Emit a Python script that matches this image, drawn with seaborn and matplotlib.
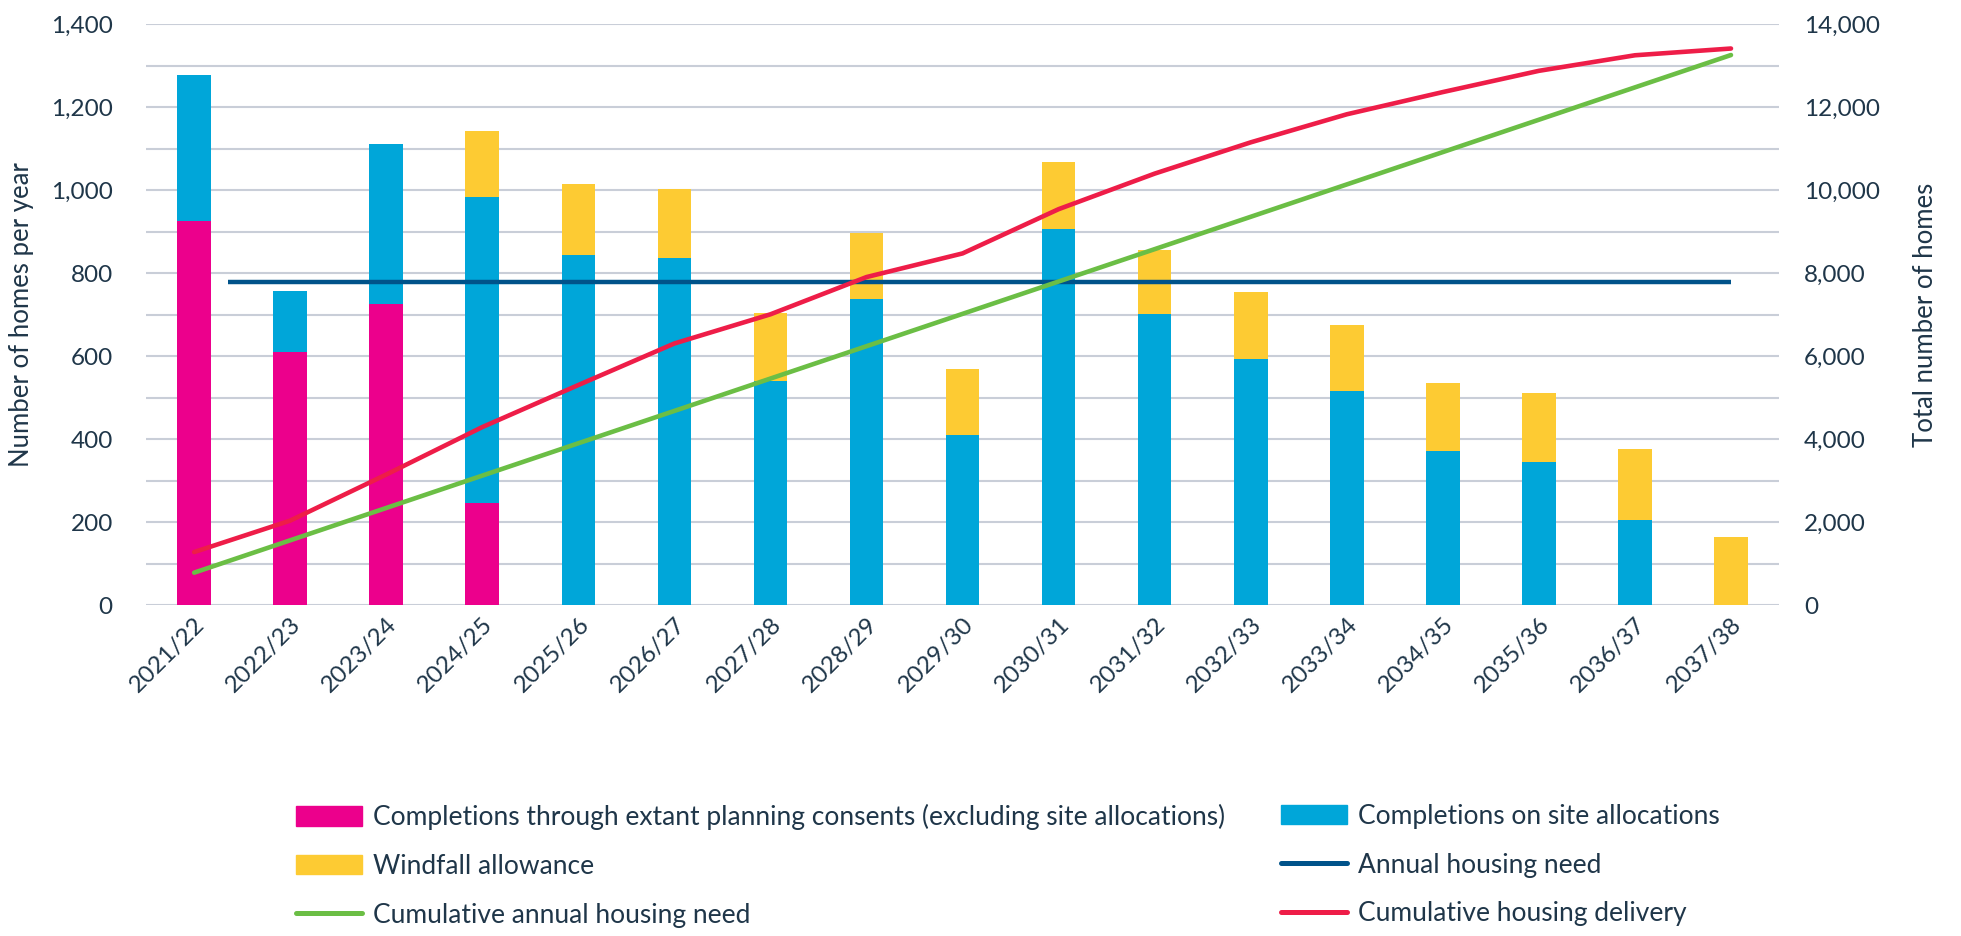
import matplotlib
matplotlib.use('Agg')
import matplotlib.pyplot as plt
import matplotlib.patches as mpatches
import matplotlib.lines as mlines
import numpy as np
import pandas as pd
import seaborn as sns

years = ['2021/22', '2022/23', '2023/24', '2024/25', '2025/26', '2026/27', '2027/28',
         '2028/29', '2029/30', '2030/31', '2031/32', '2032/33', '2033/34', '2034/35',
         '2035/36', '2036/37', '2037/38']
extant = [927, 609, 725, 245, 0, 0, 0, 0, 0, 0, 0, 0, 0, 0, 0, 0, 0]
site = [350, 149, 386, 738, 845, 836, 539, 737, 409, 906, 701, 592, 515, 372, 344, 206, 0]
windfall = [0, 0, 0, 161, 169, 166, 164, 161, 161, 161, 156, 162, 161, 164, 168, 169, 163]
annual_need = 780
cum_need = [780, 1560, 2340, 3120, 3900, 4680, 5460, 6240, 7020, 7800, 8580, 9360,
            10140, 10920, 11700, 12480, 13260]
cum_delivery = [1277, 2035, 3146, 4290, 5304, 6306, 7009, 7907, 8477, 9544, 10401,
                11155, 11831, 12367, 12879, 13254, 13417]

PINK = '#ec008c'
BLUE = '#00a6d9'
YELLOW = '#fdcb33'
NAVY = '#00538a'
GREEN = '#6bbe45'
RED = '#ee1d48'
TEXT = '#1f3649'
GRID = '#c9ced8'

sns.set_style('white')
plt.rcParams['font.family'] = ['Lato', 'DejaVu Sans']
plt.rcParams['text.color'] = TEXT

df = pd.DataFrame({'year': years, 'extant': extant, 'site': site, 'windfall': windfall})
df['lower2'] = df['extant'] + df['site']
df['total'] = df['lower2'] + df['windfall']

fig = plt.figure(figsize=(19.61, 9.36), dpi=100)
ax = fig.add_axes([0.0745, 0.3536, 0.8327, 0.6204])

# stacked bars drawn as layered totals
bar_kw = dict(saturation=1, width=0.35, linewidth=0, edgecolor='none', ax=ax)
sns.barplot(data=df, x='year', y='total', color=YELLOW, **bar_kw)
sns.barplot(data=df, x='year', y='lower2', color=BLUE, **bar_kw)
sns.barplot(data=df, x='year', y='extant', color=PINK, **bar_kw)

ax.hlines(annual_need, 0.35, len(years) - 1, color=NAVY, lw=3.2, zorder=4)

ax.set_ylim(0, 1400)
ax.set_xlim(-0.5, len(years) - 0.5)
ax.set_yticks(range(0, 1401, 200))
ax.set_yticks(range(100, 1400, 200), minor=True)
ax.set_yticklabels([f'{v:,}' for v in range(0, 1401, 200)])
ax.grid(axis='y', which='both', color=GRID, lw=1.5)
ax.set_axisbelow(True)
ax.tick_params(axis='both', which='both', length=0, colors=TEXT, labelsize=17.5)
ax.tick_params(axis='y', pad=24)
ax.tick_params(axis='x', pad=6)
plt.setp(ax.get_xticklabels(), rotation=45, ha='right', rotation_mode='anchor')
ax.set_xlabel('')
ax.set_ylabel('Number of homes per year', fontsize=18.5, color=TEXT, va='center')
ax.yaxis.set_label_coords(-0.0765, 0.5)
for s in ax.spines.values():
    s.set_visible(False)

ax2 = ax.twinx()
x = np.arange(len(years))
sns.lineplot(x=x, y=cum_need, color=GREEN, lw=3.3, ax=ax2)
sns.lineplot(x=x, y=cum_delivery, color=RED, lw=3.3, ax=ax2)
ax2.set_ylim(0, 14000)
ax2.set_yticks(range(0, 14001, 2000))
ax2.set_yticklabels([f'{v:,}' for v in range(0, 14001, 2000)])
ax2.tick_params(axis='y', length=0, colors=TEXT, labelsize=17.5, pad=18)
ax2.set_ylabel('Total number of homes', fontsize=18.5, color=TEXT, rotation=90, va='center')
ax2.yaxis.set_label_coords(1.09, 0.5)
ax2.grid(False)
for s in ax2.spines.values():
    s.set_visible(False)
ax.set_xlim(-0.5, len(years) - 0.5)

kw = dict(frameon=False, fontsize=19, handlelength=2.5, handleheight=0.75,
          handletextpad=0.4, labelspacing=0.9, borderpad=0, borderaxespad=0,
          loc='upper left', bbox_transform=fig.transFigure)
h1 = [mpatches.Patch(color=PINK), mpatches.Patch(color=YELLOW),
      mlines.Line2D([], [], color=GREEN, lw=3.6)]
l1 = ['Completions through extant planning consents (excluding site allocations)',
      'Windfall allowance', 'Cumulative annual housing need']
h2 = [mpatches.Patch(color=BLUE), mlines.Line2D([], [], color=NAVY, lw=3.6),
      mlines.Line2D([], [], color=RED, lw=3.6)]
l2 = ['Completions on site allocations', 'Annual housing need', 'Cumulative housing delivery']
fig.legend(h1, l1, bbox_to_anchor=(296 / 1961, 1 - 804 / 936), **kw)
fig.legend(h2, l2, bbox_to_anchor=(1281 / 1961, 1 - 804 / 936), **kw)

fig.savefig('out.png', dpi=100)
